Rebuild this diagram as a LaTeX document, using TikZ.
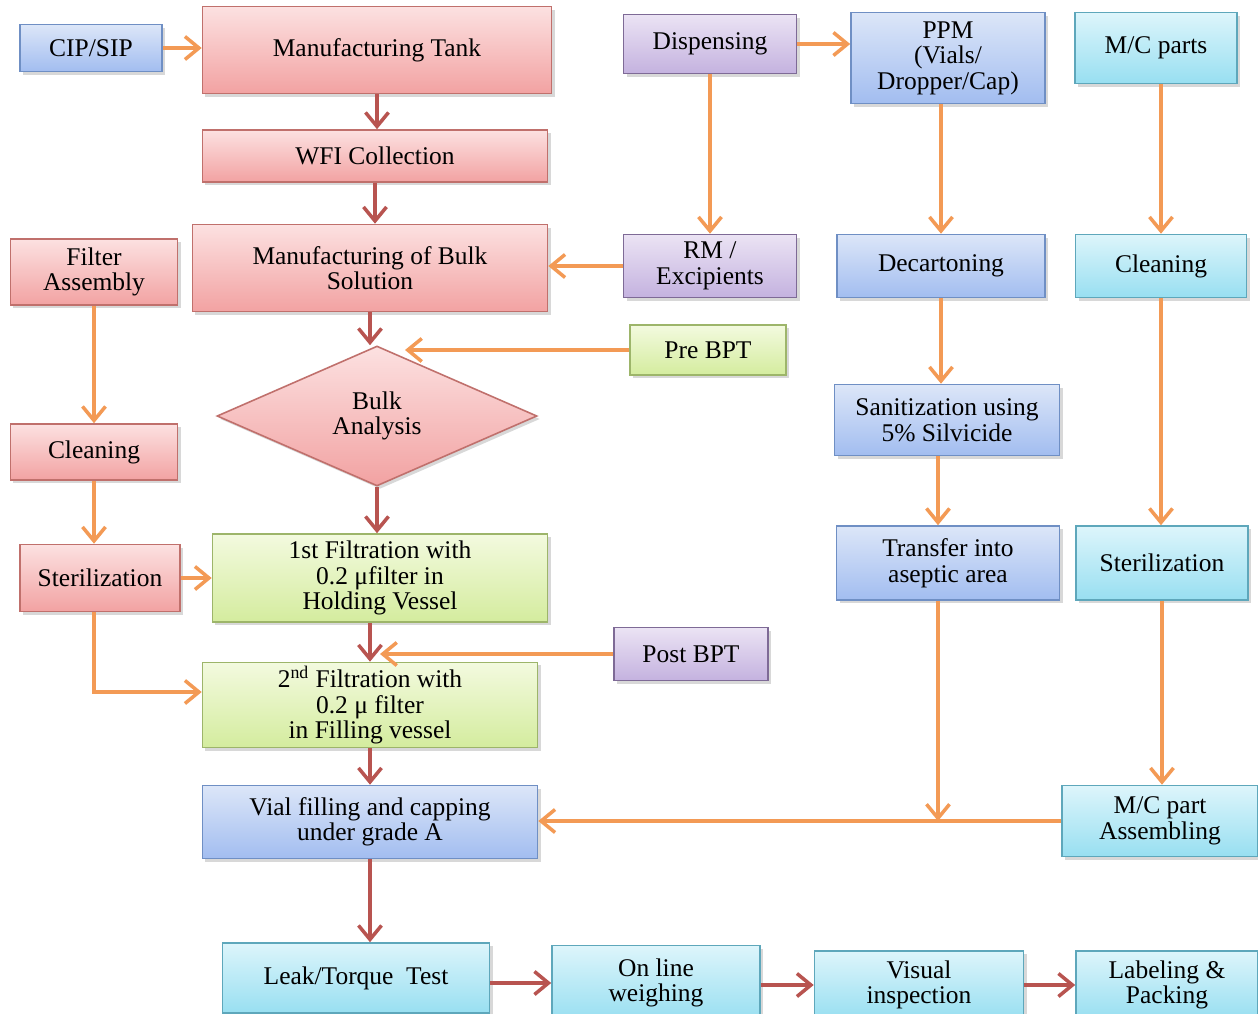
\documentclass[tikz,border=0pt]{standalone}
\usepackage{fontspec}
\setmainfont{Liberation Serif}
\usepackage{tikz}
\usetikzlibrary{arrows.meta, shapes.geometric, shadows}

\definecolor{pinkline}{HTML}{C0706C}
\definecolor{pinktop}{HTML}{FCE1E1}
\definecolor{pinkbot}{HTML}{F2A2A2}
\definecolor{blueline}{HTML}{6F8FC4}
\definecolor{bluetop}{HTML}{DCE6F8}
\definecolor{bluebot}{HTML}{A2BDF0}
\definecolor{cyanline}{HTML}{5EA7BB}
\definecolor{cyantop}{HTML}{DDF5FB}
\definecolor{cyanbot}{HTML}{98DFF1}
\definecolor{purpline}{HTML}{7E6A96}
\definecolor{purptop}{HTML}{EBE3F4}
\definecolor{purpbot}{HTML}{C4B2DF}
\definecolor{greenline}{HTML}{9DB56A}
\definecolor{greentop}{HTML}{F3FADF}
\definecolor{greenbot}{HTML}{D4EC9E}
\definecolor{arrorange}{HTML}{F39A55}
\definecolor{arrred}{HTML}{B85450}

\begin{document}
\begin{tikzpicture}[x=0.2mm, y=-0.2mm, font=\fontsize{14.5}{14.5}\selectfont]
\tikzstyle{box}=[rectangle, align=center, inner sep=2pt, line width=0.9pt, drop shadow={shadow xshift=0.6mm, shadow yshift=-0.6mm, opacity=0.3}]
\tikzstyle{pinkbox}=[box, draw=pinkline, top color=pinktop, bottom color=pinkbot]
\tikzstyle{bluebox}=[box, draw=blueline, top color=bluetop, bottom color=bluebot]
\tikzstyle{cyanbox}=[box, draw=cyanline, top color=cyantop, bottom color=cyanbot]
\tikzstyle{purpbox}=[box, draw=purpline, top color=purptop, bottom color=purpbot]
\tikzstyle{greenbox}=[box, draw=greenline, top color=greentop, bottom color=greenbot]
\tikzstyle{oarr}=[draw=arrorange, line width=2pt, -{Straight Barb[length=2.8mm, width=4.6mm]}]
\tikzstyle{rarr}=[draw=arrred, line width=2pt, -{Straight Barb[length=2.8mm, width=4.6mm]}]

\useasboundingbox[fill=white] (0,0) rectangle (1258,1014);

% left column
\node[bluebox, minimum width=28.4mm, minimum height=9.4mm] (cip) at (91,48) {CIP/SIP};
\node[pinkbox, minimum width=69.8mm, minimum height=17.4mm] (tank) at (377,50) {Manufacturing Tank};
\node[pinkbox, minimum width=69mm, minimum height=10.4mm] (wfi) at (375,156) {WFI Collection};
\node[pinkbox, minimum width=71mm, minimum height=17.4mm] (bulk) at (370,268) {Manufacturing of Bulk\\Solution};
\node[pinkbox, minimum width=33.4mm, minimum height=13.2mm] (filt) at (94,272) {Filter\\Assembly};
\node[diamond, draw=pinkline, line width=0.9pt, top color=pinktop, bottom color=pinkbot, align=center, inner sep=0pt, shape aspect=2.3, minimum width=64mm, minimum height=28mm, drop shadow={shadow xshift=0.6mm, shadow yshift=-0.6mm, opacity=0.3}] (ba) at (377,416) {Bulk\\Analysis};
\node[pinkbox, minimum width=33.4mm, minimum height=11.2mm] (cleanl) at (94,452) {Cleaning};
\node[pinkbox, minimum width=32mm, minimum height=13.4mm] (sterl) at (100,578) {Sterilization};
\node[greenbox, minimum width=67mm, minimum height=17.6mm] (f1) at (380,578) {1st Filtration with\\0.2 μfilter in\\Holding Vessel};
\node[greenbox, minimum width=67mm, minimum height=16.4mm] (f2) at (370,705) {2\textsuperscript{nd} Filtration with\\0.2 μ filter\\in Filling vessel};
\node[bluebox, minimum width=67mm, minimum height=14.6mm] (vial) at (370,822) {Vial filling and capping\\under grade A};

% middle column
\node[purpbox, minimum width=34.6mm, minimum height=11.8mm] (disp) at (710,44) {Dispensing};
\node[purpbox, minimum width=34.6mm, minimum height=12.6mm] (rm) at (710,266) {RM /\\Excipients};
\node[greenbox, minimum width=31.2mm, minimum height=10mm] (pre) at (708,350) {Pre BPT};
\node[purpbox, minimum width=30.8mm, minimum height=10.6mm] (post) at (691,654) {Post BPT};
\node[bluebox, minimum width=38.8mm, minimum height=18.2mm] (ppm) at (948,58) {PPM\\(Vials/\\Dropper/Cap)};
\node[bluebox, minimum width=41.6mm, minimum height=12.6mm] (dec) at (941,266) {Decartoning};
\node[bluebox, minimum width=45mm, minimum height=14.2mm] (san) at (947,420) {Sanitization using\\5\% Silvicide};
\node[bluebox, minimum width=44.6mm, minimum height=14.8mm] (tr) at (948,563) {Transfer into\\aseptic area};

% right column
\node[cyanbox, minimum width=32.4mm, minimum height=14.2mm] (mc) at (1156,48) {M/C parts};
\node[cyanbox, minimum width=34.2mm, minimum height=12.6mm] (cleanr) at (1161,266) {Cleaning};
\node[cyanbox, minimum width=34.4mm, minimum height=14.8mm] (sterr) at (1162,563) {Sterilization};
\node[cyanbox, minimum width=39.2mm, minimum height=14.2mm] (asm) at (1160,821) {M/C part\\Assembling};

% bottom row
\node[cyanbox, minimum width=53.4mm, minimum height=14mm] (leak) at (356,978) {Leak/Torque~ Test};
\node[cyanbox, minimum width=41.6mm, minimum height=15mm] (on) at (656,983) {On line\\weighing};
\node[cyanbox, minimum width=41.8mm, minimum height=13.6mm] (vis) at (919,985) {Visual\\inspection};
\node[cyanbox, minimum width=36.4mm, minimum height=13.6mm] (lab) at (1167,985) {Labeling \&\\Packing};

\coordinate (pretip) at (405,350);

% main flow
\draw[rarr] (tank.south) -- (tank.south |- wfi.north);
\draw[rarr] (wfi.south) -- (wfi.south |- bulk.north);
\draw[rarr] (bulk.south) -- (bulk.south |- ba.north);
\draw[rarr] (ba.south) -- (ba.south |- f1.north);
\draw[rarr] (f2.north |- f1.south) -- (f2.north);
\draw[rarr] (f2.south) -- (f2.south |- vial.north);
\draw[rarr] (vial.south) -- (vial.south |- leak.north);
\draw[rarr] (leak.east |- on.west) -- (on.west);
\draw[rarr] (on.east |- vis.west) -- (vis.west);
\draw[rarr] (vis.east) -- (vis.east -| lab.west);

% side feeds
\draw[oarr] (cip.east) -- (cip.east -| tank.west);
\draw[oarr] (filt.south) -- (filt.south |- cleanl.north);
\draw[oarr] (cleanl.south) -- (cleanl.south |- sterl.north);
\draw[oarr] (sterl.east) -- (sterl.east -| f1.west);
\draw[oarr] (sterl.south -| cleanl.south) |- ([yshift=2.6mm]f2.west);
\draw[oarr] (pre.west) -- (pretip);
\draw[oarr] (post.west) -- (post.west -| f1.south);
\draw[oarr] (disp.east) -- (disp.east -| ppm.west);
\draw[oarr] (disp.south) -- (rm.north);
\draw[oarr] (rm.west) -- (rm.west -| bulk.east);
\draw[oarr] (dec.north |- ppm.south) -- (dec.north);
\draw[oarr] (dec.south) -- (dec.south |- san.north);
\draw[oarr] ([xshift=-2mm]tr.north |- san.south) -- ([xshift=-2mm]tr.north);
\draw[oarr] (asm.west) -- (asm.west -| vial.east);
\draw[oarr] ([xshift=-2mm]tr.south) -- ([xshift=-2mm]tr.south |- asm.west);
\draw[oarr] (cleanr.north |- mc.south) -- (cleanr.north);
\draw[oarr] (cleanr.south) -- (cleanr.south |- sterr.north);
\draw[oarr] (sterr.south) -- (sterr.south |- asm.north);

\end{tikzpicture}
\end{document}
